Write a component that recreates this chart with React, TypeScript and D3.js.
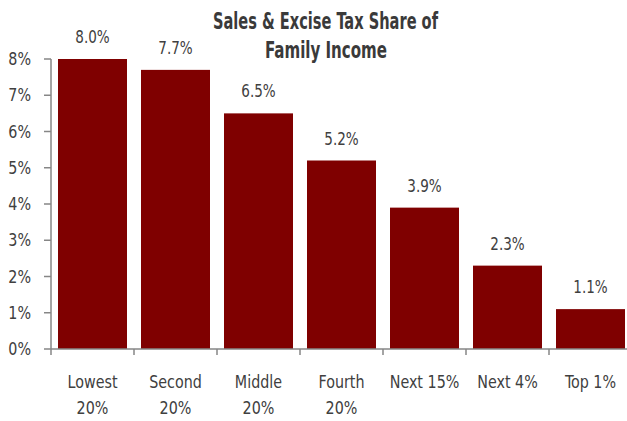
import React from "react";
import * as d3 from "d3";

const categories = ["Lowest 20%", "Second 20%", "Middle 20%", "Fourth 20%", "Next 15%", "Next 4%", "Top 1%"];
const labelLines = [["Lowest", "20%"], ["Second", "20%"], ["Middle", "20%"], ["Fourth", "20%"], ["Next 15%"], ["Next 4%"], ["Top 1%"]];
const values = [8.0, 7.7, 6.5, 5.2, 3.9, 2.3, 1.1];
const yTicks = [0, 1, 2, 3, 4, 5, 6, 7, 8];
const titleLines = ["Sales & Excise Tax Share of", "Family Income"];

const W = 627, H = 421;
const FONT = "'DejaVu Sans Condensed', 'Liberation Sans Narrow', sans-serif";

function T(props: { x: number; y: number; s: number; anchor: string; size: number; bold?: boolean; fill: string; children: React.ReactNode }) {
  return (
    <text
      transform={`translate(${props.x},${props.y}) scale(${props.s},1)`}
      textAnchor={props.anchor}
      fontSize={props.size}
      fontWeight={props.bold ? "bold" : "normal"}
      fill={props.fill}
    >
      {props.children}
    </text>
  );
}

export default function App() {
  const x = d3.scaleBand<string>().domain(categories).range([51, 632]).paddingInner(0).paddingOuter(0);
  const y = d3.scaleLinear().domain([0, 8]).range([349, 59]);
  const barPad = 7;
  const bw = x.bandwidth() - 14;
  const axisColor = "#868686";
  const textColor = "#404040";
  const sx = 0.86;
  return (
    <svg width={W} height={H} style={{ position: "absolute", left: 0, top: 0, background: "#fff" }} fontFamily={FONT}>
      <text x={325.5} y={29} textAnchor="middle" fontSize={22.5} fontWeight="bold" fill="#3a3a3a" textLength={225} lengthAdjust="spacingAndGlyphs">{titleLines[0]}</text>
      <text x={326} y={57.5} textAnchor="middle" fontSize={22.5} fontWeight="bold" fill="#3a3a3a" textLength={122} lengthAdjust="spacingAndGlyphs">{titleLines[1]}</text>
      {categories.map((c, i) => {
        const cx = (x(c) as number) + barPad + bw / 2;
        return (
          <g key={c}>
            <rect x={(x(c) as number) + barPad} y={y(values[i])} width={bw} height={y(0) - y(values[i])} fill="#7f0000" />
            <T x={cx} y={y(values[i]) - 16} s={sx} anchor="middle" size={17.5} fill={textColor}>
              {values[i].toFixed(1) + "%"}
            </T>
            {labelLines[i].map((l, j) => (
              <T key={j} x={cx} y={388 + j * 26} s={sx} anchor="middle" size={18.5} fill={textColor}>{l}</T>
            ))}
          </g>
        );
      })}
      <line x1={51} x2={51} y1={59} y2={349} stroke={axisColor} strokeWidth={1.5} />
      <line x1={51} x2={632} y1={349} y2={349} stroke={axisColor} strokeWidth={1.5} />
      {yTicks.map((t) => (
        <g key={t}>
          <line x1={44} x2={51} y1={y(t)} y2={y(t)} stroke={axisColor} strokeWidth={1.5} />
          <T x={31} y={y(t) + 6} s={sx} anchor="end" size={18.5} fill={textColor}>{t + "%"}</T>
        </g>
      ))}
      {categories.map((c) => (
        <line key={c} x1={x(c) as number} x2={x(c) as number} y1={349} y2={355} stroke={axisColor} strokeWidth={1.5} />
      ))}
    </svg>
  );
}
